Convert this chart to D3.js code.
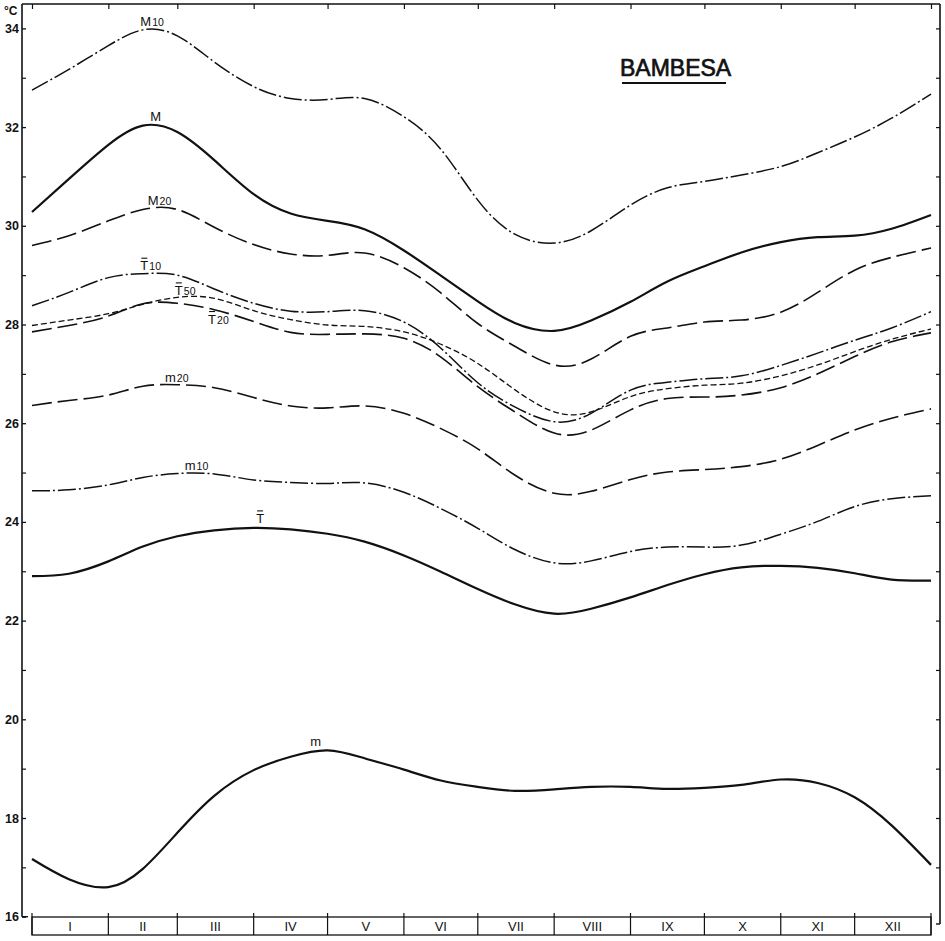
<!DOCTYPE html>
<html>
<head>
<meta charset="utf-8">
<script src="https://cdn.jsdelivr.net/npm/d3@7/dist/d3.min.js"></script>
<style>
body { margin: 0; background: #fff; }
svg { display: block; }
text { font-family: "Liberation Sans", Arial, sans-serif; fill: #111; }
</style>
</head>
<body>
<div id="canvas"></div>
<script>
const months = ["I", "II", "III", "IV", "V", "VI", "VII", "VIII", "IX", "X", "XI", "XII"];
const monthDays = [31, 28, 31, 30, 31, 30, 31, 31, 30, 31, 30, 31];
const sampleDays = [0, 15, 31, 45, 59, 74, 90, 105, 120, 135, 151, 166, 181, 196, 212, 227, 243, 258, 273, 288, 304, 319, 334, 349, 365];
const yTicks = [16, 18, 20, 22, 24, 26, 28, 30, 32, 34];

const M10  = [32.75, 33.17, 33.65, 33.97, 33.85, 33.32, 32.82, 32.58, 32.56, 32.58, 32.21, 31.55, 30.52, 29.83, 29.65, 29.9, 30.42, 30.77, 30.9, 31.03, 31.2, 31.48, 31.8, 32.18, 32.67];
const M    = [30.28, 30.95, 31.64, 32.03, 31.9, 31.33, 30.64, 30.25, 30.1, 29.93, 29.5, 28.99, 28.47, 28.03, 27.87, 28.08, 28.46, 28.87, 29.18, 29.46, 29.67, 29.77, 29.8, 29.94, 30.22];
const M20  = [29.6, 29.8, 30.1, 30.33, 30.33, 29.97, 29.62, 29.43, 29.4, 29.45, 29.15, 28.64, 28.02, 27.56, 27.18, 27.3, 27.76, 27.93, 28.05, 28.09, 28.25, 28.65, 29.1, 29.36, 29.55];
const T10  = [28.38, 28.65, 28.95, 29.03, 29.0, 28.72, 28.43, 28.27, 28.26, 28.28, 28.05, 27.52, 26.82, 26.33, 26.03, 26.2, 26.67, 26.83, 26.9, 26.96, 27.17, 27.42, 27.68, 27.93, 28.26];
const T50  = [27.98, 28.09, 28.22, 28.41, 28.55, 28.53, 28.28, 28.1, 27.99, 27.96, 27.85, 27.6, 27.21, 26.68, 26.23, 26.23, 26.54, 26.7, 26.77, 26.81, 26.96, 27.18, 27.45, 27.7, 27.91];
const T20  = [27.85, 27.98, 28.17, 28.42, 28.43, 28.3, 28.06, 27.84, 27.8, 27.81, 27.72, 27.34, 26.74, 26.23, 25.8, 25.86, 26.27, 26.5, 26.53, 26.57, 26.72, 27.0, 27.35, 27.65, 27.83];
const m20  = [26.36, 26.46, 26.57, 26.75, 26.78, 26.72, 26.52, 26.35, 26.31, 26.35, 26.2, 25.89, 25.48, 24.95, 24.58, 24.62, 24.86, 25.01, 25.06, 25.12, 25.27, 25.55, 25.86, 26.1, 26.29];
const m10  = [24.63, 24.65, 24.75, 24.9, 24.98, 24.97, 24.85, 24.8, 24.78, 24.79, 24.6, 24.27, 23.87, 23.44, 23.17, 23.21, 23.4, 23.49, 23.49, 23.53, 23.75, 24.01, 24.31, 24.47, 24.53];
const Tbar = [22.9, 22.95, 23.2, 23.5, 23.71, 23.83, 23.88, 23.85, 23.76, 23.6, 23.32, 22.99, 22.64, 22.33, 22.14, 22.24, 22.47, 22.72, 22.94, 23.08, 23.11, 23.07, 22.96, 22.83, 22.81];
const mmin = [17.17, 16.76, 16.6, 16.97, 17.7, 18.45, 18.97, 19.24, 19.37, 19.21, 18.98, 18.76, 18.63, 18.55, 18.58, 18.63, 18.63, 18.59, 18.61, 18.67, 18.78, 18.71, 18.42, 17.85, 17.05];

const width = 945;
const height = 941;
const frameLeft = 22, frameRight = 940, frameTop = 4;

const svg = d3.select("#canvas").append("svg")
  .attr("width", width)
  .attr("height", height);

const x = d3.scaleLinear().domain([0, 365]).range([32, 931]);
const y = d3.scaleLinear().domain([16, 34]).range([916.7, 28.4]);

const bounds = [0].concat(Array.from(d3.cumsum(monthDays)));

// frame
svg.append("line").attr("x1", frameLeft).attr("x2", frameLeft).attr("y1", frameTop).attr("y2", y(16))
  .attr("stroke", "#111").attr("stroke-width", 1.6);
svg.append("line").attr("x1", frameLeft).attr("x2", frameLeft + 6).attr("y1", y(16)).attr("y2", y(16))
  .attr("stroke", "#111").attr("stroke-width", 1.4);
svg.append("line").attr("x1", frameLeft).attr("x2", frameRight).attr("y1", frameTop).attr("y2", frameTop)
  .attr("stroke", "#111").attr("stroke-width", 1.4);
svg.append("line").attr("x1", frameRight).attr("x2", frameRight).attr("y1", frameTop).attr("y2", 924)
  .attr("stroke", "#111").attr("stroke-width", 1.6);
svg.append("line").attr("x1", frameRight - 4).attr("x2", frameRight).attr("y1", 924).attr("y2", 924)
  .attr("stroke", "#111").attr("stroke-width", 1.4);

// left axis
const yAxis = svg.append("g")
  .attr("transform", `translate(${frameLeft},0)`)
  .call(d3.axisLeft(y).tickValues(yTicks).tickSize(-4).tickSizeOuter(0).tickPadding(3));
yAxis.select(".domain").remove();
yAxis.selectAll("text").attr("font-size", 12.5).attr("font-weight", "bold")
  .attr("font-family", "Liberation Sans, Arial, sans-serif").attr("fill", "#111");
yAxis.selectAll("line").attr("stroke", "#111").attr("stroke-width", 1.3);

const yMinor = svg.append("g")
  .attr("transform", `translate(${frameLeft},0)`)
  .call(d3.axisLeft(y).tickValues(d3.range(17, 35, 2)).tickSize(-4).tickSizeOuter(0).tickFormat(""));
yMinor.select(".domain").remove();
yMinor.selectAll("line").attr("stroke", "#111").attr("stroke-width", 1.2);

// right axis ticks
const yRight = svg.append("g")
  .attr("transform", `translate(${frameRight},0)`)
  .call(d3.axisLeft(y).tickValues(d3.range(17, 35, 1)).tickSize(4).tickSizeOuter(0).tickFormat(""));
yRight.select(".domain").remove();
yRight.selectAll("line").attr("stroke", "#111").attr("stroke-width", 1.2);

// top ticks at month boundaries
const xTop = svg.append("g")
  .attr("transform", `translate(0,${frameTop})`)
  .call(d3.axisBottom(x).tickValues(bounds).tickSize(5).tickSizeOuter(0).tickFormat(""));
xTop.select(".domain").remove();
xTop.selectAll("line").attr("stroke", "#111").attr("stroke-width", 1.2);

svg.append("text").attr("x", 4).attr("y", 15).attr("font-size", 12).attr("font-weight", "bold").text("°C");

// month strip
const stripTop = 917, stripBot = 935;
svg.append("rect").attr("x", x(0)).attr("y", stripTop).attr("width", x(365) - x(0)).attr("height", stripBot - stripTop)
  .attr("fill", "none").attr("stroke", "#111").attr("stroke-width", 1.3);
svg.append("g").selectAll("line").data(bounds).join("line")
  .attr("x1", d => x(d)).attr("x2", d => x(d))
  .attr("y1", stripTop - 4).attr("y2", stripBot)
  .attr("stroke", "#111").attr("stroke-width", 1.2);
svg.append("g").selectAll("text").data(months).join("text")
  .attr("x", (d, i) => x((bounds[i] + bounds[i + 1]) / 2))
  .attr("y", 931)
  .attr("text-anchor", "middle")
  .attr("font-size", 13)
  .text(d => d);

// curves
const dashDot = "18,3,2,3";
const longDash = "20,6";
const shortDash = "6,3";
const series = [
  { values: M10, dash: dashDot, w: 1.5 },
  { values: M, dash: null, w: 2.2 },
  { values: M20, dash: longDash, w: 1.6 },
  { values: T10, dash: dashDot, w: 1.5 },
  { values: T50, dash: shortDash, w: 1.3 },
  { values: T20, dash: longDash, w: 1.6 },
  { values: m20, dash: longDash, w: 1.6 },
  { values: m10, dash: dashDot, w: 1.5 },
  { values: Tbar, dash: null, w: 2.2 },
  { values: mmin, dash: null, w: 2.2 }
];

const line = d3.line()
  .x((d, i) => x(sampleDays[i]))
  .y(d => y(d))
  .curve(d3.curveNatural);

svg.append("g").selectAll("path").data(series).join("path")
  .attr("d", d => line(d.values))
  .attr("fill", "none")
  .attr("stroke", "#111")
  .attr("stroke-width", d => d.w)
  .attr("stroke-dasharray", d => d.dash);

// curve labels
const labels = [
  { main: "M", sub: "10", day: 44, val: 34.05, bar: false },
  { main: "M", sub: "", day: 48, val: 32.12, bar: false },
  { main: "M", sub: "20", day: 47, val: 30.43, bar: false },
  { main: "T", sub: "10", day: 44, val: 29.1, bar: true },
  { main: "T", sub: "50", day: 58, val: 28.6, bar: true },
  { main: "T", sub: "20", day: 71.5, val: 28.02, bar: true },
  { main: "m", sub: "20", day: 54, val: 26.84, bar: false },
  { main: "m", sub: "10", day: 62, val: 25.06, bar: false },
  { main: "T", sub: "", day: 91, val: 23.98, bar: true },
  { main: "m", sub: "", day: 113, val: 19.45, bar: false }
];

labels.forEach(l => {
  const t = svg.append("text").attr("x", x(l.day)).attr("y", y(l.val)).attr("font-size", 13);
  const mainSpan = t.append("tspan").text(l.main);
  if (l.sub) t.append("tspan").attr("font-size", 10.5).attr("dx", 1).text(l.sub);
  if (l.bar) {
    const w = mainSpan.node().getComputedTextLength();
    svg.append("line")
      .attr("x1", x(l.day) + 1).attr("x2", x(l.day) + w - 1)
      .attr("y1", y(l.val) - 12).attr("y2", y(l.val) - 12)
      .attr("stroke", "#111").attr("stroke-width", 1.1);
  }
});

// station name
svg.append("text").attr("x", 620).attr("y", 76).attr("font-size", 23)
  .attr("stroke", "#111").attr("stroke-width", 0.7)
  .text("BAMBESA");
svg.append("line").attr("x1", 622).attr("x2", 726).attr("y1", 83).attr("y2", 83)
  .attr("stroke", "#111").attr("stroke-width", 2.2);
</script>
</body>
</html>
